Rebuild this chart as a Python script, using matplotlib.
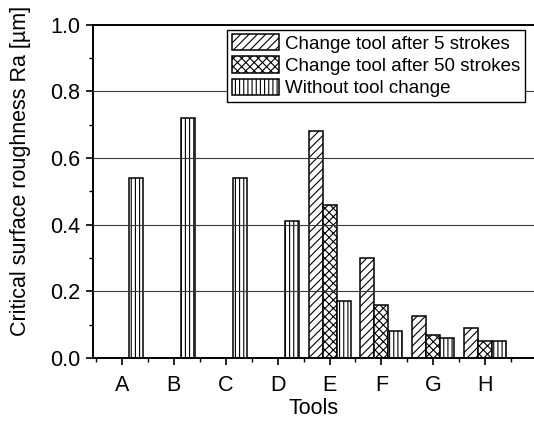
import matplotlib
matplotlib.use("Agg")
import matplotlib.pyplot as plt
import numpy as np
from matplotlib.ticker import MultipleLocator

TOOLS = ["A", "B", "C", "D", "E", "F", "G", "H"]
AFTER_5 = [0, 0, 0, 0, 0.68, 0.30, 0.125, 0.09]
AFTER_50 = [0, 0, 0, 0, 0.46, 0.16, 0.07, 0.05]
NO_CHANGE = [0.54, 0.72, 0.54, 0.41, 0.17, 0.08, 0.06, 0.05]
LABELS = ["Change tool after 5 strokes", "Change tool after 50 strokes", "Without tool change"]
HATCHES = ["////", "xxxx", "||||"]

plt.rcParams.update({
    "font.family": ["Liberation Sans", "DejaVu Sans"],
    "font.size": 15.5,
    "hatch.linewidth": 0.8,
    "axes.linewidth": 1.4,
})


def main() -> None:
    fig = plt.figure(figsize=(5.34, 4.21), dpi=100)
    ax = fig.add_axes([0.174, 0.1496, 0.826, 0.7922])

    x = np.arange(len(TOOLS))
    width = 0.27
    for k, (vals, hatch, label) in enumerate(zip([AFTER_5, AFTER_50, NO_CHANGE], HATCHES, LABELS)):
        ax.bar(x + (k - 1) * width, vals, width, facecolor="white", edgecolor="black",
               linewidth=1.1, hatch=hatch, label=label, zorder=2)

    for y in (0.2, 0.4, 0.6, 0.8):
        ax.axhline(y, color="#3a3a3a", linewidth=0.8, zorder=3)

    ax.set_xlim(-0.56, 7.94)
    ax.set_ylim(0, 1.0)
    ax.set_xticks(x, labels=TOOLS)
    ax.xaxis.set_minor_locator(MultipleLocator(1, offset=0.5))
    ax.yaxis.set_major_locator(MultipleLocator(0.2))
    ax.yaxis.set_minor_locator(MultipleLocator(0.1))
    ax.yaxis.set_major_formatter(matplotlib.ticker.FormatStrFormatter("%.1f"))
    ax.tick_params(which="major", direction="out", length=5, width=1.2, pad=4)
    ax.tick_params(axis="x", which="major", pad=7)
    ax.tick_params(which="minor", direction="out", length=3, width=1.0)
    ax.spines["right"].set_visible(False)

    ax.set_xlabel("Tools", labelpad=2)
    ax.set_ylabel("Critical surface roughness Ra [µm]")
    ax.yaxis.set_label_coords(-0.14, 0.56)

    leg = ax.legend(loc="upper right", bbox_to_anchor=(0.98, 0.985), borderaxespad=0,
                    fontsize=13.5, fancybox=False, framealpha=1, edgecolor="black",
                    handlelength=2.5, handleheight=0.95, handletextpad=0.35,
                    labelspacing=0.2, borderpad=0.25)
    leg.get_frame().set_linewidth(1.0)
    leg.set_zorder(5)

    fig.savefig("out.png", dpi=100)
    plt.close(fig)


if __name__ == "__main__":
    main()
